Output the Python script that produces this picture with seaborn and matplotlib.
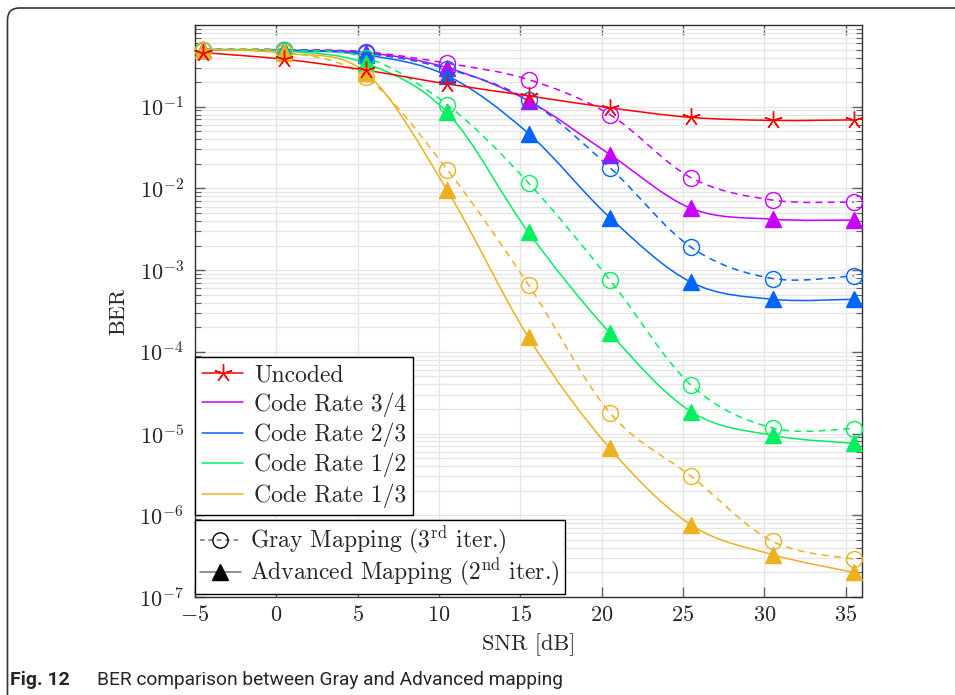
import numpy as np
import matplotlib
matplotlib.use("Agg")
import matplotlib.pyplot as plt
import seaborn as sns
from matplotlib.path import Path
from matplotlib.patches import PathPatch, FancyBboxPatch
from matplotlib.lines import Line2D
from matplotlib.ticker import FixedLocator, LogLocator, NullFormatter, NullLocator
from matplotlib import font_manager

# ---- data -------------------------------------------------------------
snr_db = [-4.5, 0.5, 5.5, 10.5, 15.5, 20.5, 25.5, 30.5, 35.5]

ber_uncoded = [0.46, 0.38, 0.28, 0.19, 0.136, 0.097, 0.074, 0.068, 0.069]

ber_r34_adv = [0.50, 0.49, 0.46, 0.30, 0.118, 0.026, 0.0057, 0.0042, 0.0041]
ber_r34_gray = [0.50, 0.50, 0.47, 0.34, 0.215, 0.080, 0.0135, 0.0072, 0.0068]
ber_r23_adv = [0.50, 0.49, 0.43, 0.24, 0.047, 0.0044, 0.00071, 0.00044, 0.00044]
ber_r23_gray = [0.50, 0.50, 0.45, 0.29, 0.12, 0.018, 0.0019, 0.00079, 0.00085]
ber_r12_adv = [0.50, 0.48, 0.34, 0.085, 0.0029, 0.00017, 1.85e-5, 9.5e-6, 7.6e-6]
ber_r12_gray = [0.50, 0.49, 0.40, 0.106, 0.0117, 0.00076, 3.9e-5, 1.17e-5, 1.15e-5]
ber_r13_adv = [0.50, 0.45, 0.26, 0.0095, 1.5e-4, 6.6e-6, 7.6e-7, 3.3e-7, 2.0e-7]
ber_r13_gray = [0.50, 0.47, 0.23, 0.017, 6.6e-4, 1.8e-5, 3.0e-6, 4.8e-7, 2.9e-7]

rate_labels = ["Code Rate 3/4", "Code Rate 2/3", "Code Rate 1/2", "Code Rate 1/3"]
rate_adv = [ber_r34_adv, ber_r23_adv, ber_r12_adv, ber_r13_adv]
rate_gray = [ber_r34_gray, ber_r23_gray, ber_r12_gray, ber_r13_gray]
mapping_labels = ["Gray Mapping (3$^{\\mathrm{rd}}$ iter.)",
                  "Advanced Mapping (2$^{\\mathrm{nd}}$ iter.)"]

x_ticks = [-5, 0, 5, 10, 15, 20, 25, 30, 35]
y_ticks = [1e-7, 1e-6, 1e-5, 1e-4, 1e-3, 1e-2, 1e-1]

# ---- style ------------------------------------------------------------
sns.set_style("ticks")
plt.rcParams["font.family"] = ["cmr10"]
plt.rcParams["mathtext.fontset"] = "cm"
plt.rcParams["axes.formatter.use_mathtext"] = True
plt.rcParams["axes.unicode_minus"] = True

uncoded_color = "#FF0000"
rate_colors = ["#C800FF", "#0064FF", "#00F060", "#EDB120"]
grid_color = "#E6E6E6"
LW = 1.1
LEG_FS = 17


def smooth_curve(ax, xs, ys, color, ls):
    """Draw a Catmull-Rom style Bezier curve through the points (log y)."""
    p = np.column_stack([np.asarray(xs, float), np.log10(np.asarray(ys, float))])
    t = np.empty_like(p)
    t[1:-1] = p[2:] - p[:-2]
    t[0] = p[1] - p[0]
    t[-1] = p[-1] - p[-2]
    k = 1.0 / 6.0
    verts = [p[0]]
    codes = [Path.MOVETO]
    for i in range(len(p) - 1):
        verts += [p[i] + k * t[i], p[i + 1] - k * t[i + 1], p[i + 1]]
        codes += [Path.CURVE4] * 3
    verts = np.array(verts)
    verts[:, 1] = 10 ** verts[:, 1]
    ax.add_patch(PathPatch(Path(verts, codes), fill=False, edgecolor=color,
                           linestyle=ls, linewidth=LW, zorder=2,
                           capstyle="butt", joinstyle="round"))


def draw_markers(ax, xs, ys, color, marker, filled, ms):
    sns.lineplot(x=xs, y=ys, ax=ax, color=color, marker=marker, linestyle="",
                 markersize=ms, markeredgecolor=color,
                 markerfacecolor=color if filled else "none",
                 markeredgewidth=1.0, clip_on=False, zorder=3)


fig = plt.figure(figsize=(9.55, 6.95), dpi=100)
ax = fig.add_axes([195 / 955, 1 - 597 / 695, 667 / 955, 572 / 695])
ax.set_yscale("log")

dash = (0, (4.5, 3.5))

# coded curves: Gray mapping (dashed, open circles) and advanced mapping
for color, adv, gray in zip(rate_colors, rate_adv, rate_gray):
    smooth_curve(ax, snr_db, gray, color, dash)
    smooth_curve(ax, snr_db, adv, color, "-")
    draw_markers(ax, snr_db, gray, color, "o", False, 11.5)
    draw_markers(ax, snr_db, adv, color, "^", True, 11.5)

# uncoded reference
smooth_curve(ax, snr_db, ber_uncoded, uncoded_color, "-")
draw_markers(ax, snr_db, ber_uncoded, uncoded_color, (5, 2, 0), False, 13)

ax.set_xlim(-5, 36)
ax.set_ylim(1e-7, 1.0)
ax.xaxis.set_major_locator(FixedLocator(x_ticks))
ax.xaxis.set_minor_locator(NullLocator())
ax.yaxis.set_major_locator(FixedLocator(y_ticks))
ax.yaxis.set_minor_locator(LogLocator(base=10, subs=np.arange(2, 10), numticks=30))
ax.yaxis.set_minor_formatter(NullFormatter())
ax.set_xticklabels([f"${v}$" if v >= 0 else f"$-{abs(v)}$" for v in x_ticks])

ax.grid(which="major", color=grid_color, linewidth=1.0)
ax.grid(which="minor", axis="y", color=grid_color, linewidth=1.0)
ax.set_axisbelow(True)

ax.tick_params(which="both", direction="in", top=True, right=True,
               color="#606060", labelsize=16)
ax.tick_params(which="major", length=7, width=1.0)
ax.tick_params(which="minor", length=4.5, width=0.8)
ax.tick_params(axis="x", pad=6)
ax.tick_params(axis="y", pad=8)
for s in ax.spines.values():
    s.set_color("#303030")
    s.set_linewidth(1.0)

ax.set_xlabel("SNR [dB]", fontsize=16, labelpad=6)
ax.set_ylabel("BER", fontsize=16, labelpad=8)

# legends
rate_handles = [Line2D([], [], color=uncoded_color, lw=LW, marker=(5, 2, 0),
                       markersize=13, markeredgecolor=uncoded_color)]
rate_handles += [Line2D([], [], color=c, lw=LW) for c in rate_colors]
leg1 = ax.legend(rate_handles, ["Uncoded"] + rate_labels, loc="upper left",
                 bbox_to_anchor=(0.0, (597 - 357) / 572), borderaxespad=0.0,
                 fontsize=LEG_FS, frameon=True, fancybox=False, framealpha=1.0,
                 edgecolor="black", handlelength=1.75, handletextpad=0.45,
                 labelspacing=0.25, borderpad=0.3)
leg1.get_frame().set_linewidth(1.0)
ax.add_artist(leg1)

map_handles = [
    Line2D([], [], color="#707070", lw=LW, linestyle=(0, (3, 2.5)), marker="o",
           markersize=11, markerfacecolor="none", markeredgecolor="black"),
    Line2D([], [], color="#707070", lw=LW, marker="^", markersize=11,
           markerfacecolor="black", markeredgecolor="black"),
]
leg2 = ax.legend(map_handles, mapping_labels, loc="lower left",
                 bbox_to_anchor=(0.0, (597 - 594) / 572), borderaxespad=0.0,
                 fontsize=LEG_FS, frameon=True, fancybox=False, framealpha=1.0,
                 edgecolor="black", handlelength=1.75, handletextpad=0.4,
                 labelspacing=0.0, borderpad=0.2)
leg2.get_frame().set_linewidth(1.0)

# rounded frame around the figure panel
frame = FancyBboxPatch((0.075, -0.5), 10.0, 6.87 + 0.5,
                       boxstyle="round,pad=0,rounding_size=0.12",
                       transform=fig.dpi_scale_trans, fill=False,
                       edgecolor="#333333", linewidth=1.2)
fig.add_artist(frame)

# caption
available = {f.name for f in font_manager.fontManager.ttflist}
cap_font = "Liberation Sans Narrow" if "Liberation Sans Narrow" in available else "Roboto"
fig.text(10 / 955, 1 - 680 / 695, "Fig. 12", fontsize=14, fontweight="bold",
         family=cap_font, va="center", ha="left")
fig.text(97 / 955, 1 - 680 / 695, "BER comparison between Gray and Advanced mapping",
         fontsize=13.8, family=cap_font, va="center", ha="left")

fig.savefig("out.png", dpi=100)
